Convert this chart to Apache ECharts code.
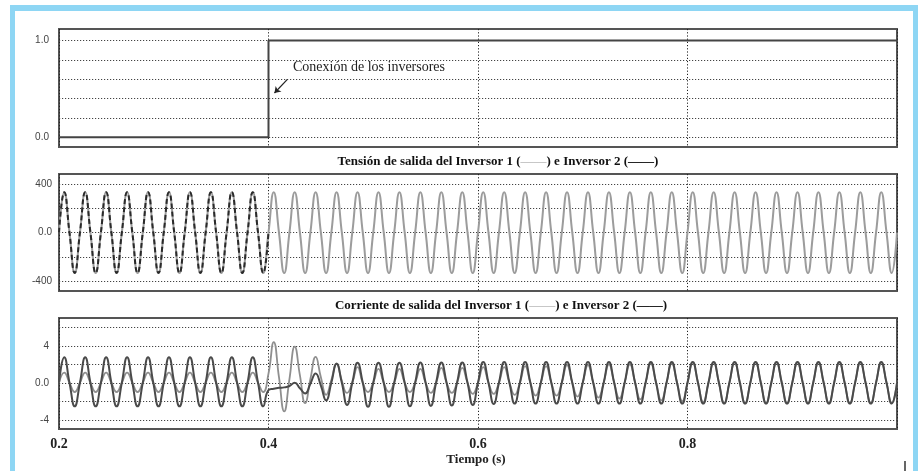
<!DOCTYPE html>
<html>
<head>
<meta charset="utf-8">
<script src="https://cdn.jsdelivr.net/npm/echarts@6/dist/echarts.min.js"></script>
<style>
  html, body { margin: 0; padding: 0; background: #fff; }
  #chart { width: 918px; height: 471px; }
</style>
</head>
<body>
<div id="chart"></div>
<script>
// tiempo: un ciclo de 50 Hz = 0.02 s, muestras cada cuarto de ciclo
const t0 = 0.2;
const period = 0.02;

// señal de conexión
const stepT = [0.2, 0.4, 0.4, 1.0];
const stepV = [0, 0, 1, 1];

// tensión: pico y valle de cada ciclo (40 ciclos de 0.2 a 1.0 s)
const vPeak1 = [330, 330, 330, 330, 330, 330, 330, 330, 330, 330,
  330, 330, 330, 330, 330, 330, 330, 330, 330, 330,
  330, 330, 330, 330, 330, 330, 330, 330, 330, 330,
  330, 330, 330, 330, 330, 330, 330, 330, 330, 330];
const vValley1 = [-332, -332, -332, -332, -332, -332, -332, -332, -332, -332,
  -332, -332, -332, -332, -332, -332, -332, -332, -332, -332,
  -332, -332, -332, -332, -332, -332, -332, -332, -332, -332,
  -332, -332, -332, -332, -332, -332, -332, -332, -332, -332];
// inversor 2 solo visible hasta 0.4 s
const vPeak2 = [330, 330, 330, 330, 330, 330, 330, 330, 330, 330];
const vValley2 = [-332, -332, -332, -332, -332, -332, -332, -332, -332, -332];

// corriente: [cruce, pico, cruce, valle] por ciclo
const i1 = [
  [0, 1.1, 0, -1.0], [0, 1.1, 0, -1.0], [0, 1.1, 0, -1.0], [0, 1.1, 0, -1.0], [0, 1.1, 0, -1.0],
  [0, 1.1, 0, -1.0], [0, 1.1, 0, -1.0], [0, 1.1, 0, -1.0], [0, 1.1, 0, -1.0], [0, 1.1, 0, -1.0],
  [1.0, 4.4, 0.6, -3.1],  // 0.40
  [0.4, 3.9, 0.8, -2.2],
  [0.4, 2.8, 0.6, -1.3],
  [0.3, 2.1, 0.2, -1.1],
  [0, 1.7, 0, -1.0],
  [0, 1.5, 0, -1.0], [0, 1.5, 0, -1.0], [0, 1.5, 0, -1.1], [0, 1.6, 0, -1.1], [0, 1.6, 0, -1.2],
  [0, 1.7, 0, -1.2],      // 0.60
  [0, 1.7, 0, -1.3], [0, 1.8, 0, -1.4], [0, 1.8, 0, -1.4], [0, 1.9, 0, -1.5], [0, 1.9, 0, -1.6],
  [0, 2.0, 0, -1.7], [0, 2.0, 0, -1.8], [0, 2.1, 0, -1.9], [0, 2.1, 0, -2.0],
  [0, 2.2, 0, -2.1],      // 0.80
  [0, 2.2, 0, -2.2], [0, 2.2, 0, -2.2], [0, 2.2, 0, -2.2], [0, 2.2, 0, -2.2], [0, 2.2, 0, -2.2],
  [0, 2.2, 0, -2.2], [0, 2.2, 0, -2.2], [0, 2.2, 0, -2.2], [0, 2.2, 0, -2.2]
];
const i2 = [
  [0, 2.75, 0, -2.55], [0, 2.75, 0, -2.55], [0, 2.75, 0, -2.55], [0, 2.75, 0, -2.55], [0, 2.75, 0, -2.55],
  [0, 2.75, 0, -2.55], [0, 2.75, 0, -2.55], [0, 2.75, 0, -2.55], [0, 2.75, 0, -2.55], [0, 2.75, 0, -2.55],
  [-0.8, -0.65, -0.55, -0.5], // 0.40
  [-0.35, 0.0, -0.6, -1.15],
  [-0.1, 1.0, -0.3, -1.9],
  [0, 2.05, 0, -2.4],
  [0, 2.15, 0, -2.6],
  [0, 2.15, 0, -2.6], [0, 2.15, 0, -2.55], [0, 2.2, 0, -2.5], [0, 2.2, 0, -2.45], [0, 2.2, 0, -2.4],
  [0, 2.25, 0, -2.3],     // 0.60
  [0, 2.25, 0, -2.25], [0, 2.25, 0, -2.25], [0, 2.25, 0, -2.25], [0, 2.25, 0, -2.25], [0, 2.25, 0, -2.25],
  [0, 2.25, 0, -2.25], [0, 2.25, 0, -2.25], [0, 2.25, 0, -2.25], [0, 2.25, 0, -2.25],
  [0, 2.25, 0, -2.25],    // 0.80
  [0, 2.25, 0, -2.25], [0, 2.25, 0, -2.25], [0, 2.25, 0, -2.25], [0, 2.25, 0, -2.25], [0, 2.25, 0, -2.25],
  [0, 2.25, 0, -2.25], [0, 2.25, 0, -2.25], [0, 2.25, 0, -2.25], [0, 2.25, 0, -2.25]
];

// líneas de rejilla horizontales
const grid1 = [0, 0.2, 0.4, 0.6, 0.8, 1.0];
const grid2 = [-400, -200, 0, 200, 400];
const grid3 = [-4, -2, 0, 2, 4, 6];

function toPoints(rows, last) {
  const pts = [];
  rows.forEach((r, k) => {
    r.forEach((v, j) => pts.push([t0 + k * period + j * period / 4, v]));
  });
  pts.push([t0 + rows.length * period, last]);
  return pts;
}
const voltRows = (p, v) => p.map((pk, k) => [0, pk, 0, v[k]]);

const serif = '"Liberation Serif", "Times New Roman", serif';
const sans = '"Liberation Sans", Arial, sans-serif';
const dotted = { color: '#444', type: [1.2, 1.8], width: 1 };

function gridSeries(idx, vals) {
  return {
    type: 'line', xAxisIndex: idx, yAxisIndex: idx, data: [],
    markLine: {
      silent: true, symbol: 'none', z: 1, animation: false,
      label: { show: false }, lineStyle: dotted,
      data: vals.map(v => ({ yAxis: v }))
    }
  };
}

function fmt(show) {
  return v => {
    for (const s of show) if (Math.abs(v - s[0]) < 1e-6) return s[1];
    return '';
  };
}

const grids = [
  { left: 59, right: 21, top: 29, height: 118 },
  { left: 59, right: 21, top: 174, height: 117 },
  { left: 59, right: 21, top: 318, height: 111 }
].map(g => Object.assign(g, { show: true, borderColor: '#555', borderWidth: 2 }));

const xAxes = [0, 1, 2].map(i => ({
  type: 'value', gridIndex: i, min: 0.2, max: 1.0, interval: 0.2,
  axisLine: { show: false }, axisTick: { show: false },
  splitLine: { show: true, lineStyle: { color: '#222', type: [1.2, 2], width: 1 } },
  axisLabel: {
    show: i === 2, margin: 8,
    fontFamily: serif, fontWeight: 'bold', fontSize: 14, color: '#222',
    formatter: v => (v > 0.99 ? '' : v.toFixed(1))
  }
}));

const yLabel = { fontFamily: sans, fontSize: 10, color: '#444' };
const yAxes = [
  { gridIndex: 0, min: -0.1, max: 1.12, interval: 0.1,
    axisLabel: Object.assign({ margin: 10, formatter: fmt([[0, '0.0'], [1, '1.0']]) }, yLabel) },
  { gridIndex: 1, min: -480, max: 480, interval: 80,
    axisLabel: Object.assign({ margin: 7, formatter: fmt([[400, '400'], [0, '0.0'], [-400, '-400']]) }, yLabel) },
  { gridIndex: 2, min: -5, max: 7, interval: 1,
    axisLabel: Object.assign({ margin: 10, formatter: fmt([[4, '4'], [0, '0.0'], [-4, '-4']]) }, yLabel) }
].map(a => Object.assign(a, {
  type: 'value', axisLine: { show: false }, axisTick: { show: false }, splitLine: { show: false }
}));

const line = (idx, data, color, width, type, z) => ({
  type: 'line', xAxisIndex: idx, yAxisIndex: idx, data, z,
  showSymbol: false, symbol: 'none', smooth: 0.5,
  lineStyle: { color, width, type: type || 'solid' }
});

const chart = echarts.init(document.getElementById('chart'));
chart.setOption({
  animation: false,
  backgroundColor: '#fff',
  grid: grids,
  xAxis: xAxes,
  yAxis: yAxes,
  series: [
    gridSeries(0, grid1),
    gridSeries(1, grid2),
    gridSeries(2, grid3),
    {
      type: 'line', xAxisIndex: 0, yAxisIndex: 0, z: 3,
      data: stepT.map((t, k) => [t, stepV[k]]),
      showSymbol: false, symbol: 'none',
      lineStyle: { color: '#444', width: 2 },
      markLine: {
        silent: true, animation: false, symbol: ['none', 'arrow'], symbolSize: 6,
        label: { show: false },
        lineStyle: { color: '#222', type: 'solid', width: 1.2 },
        data: [[{ coord: [0.418, 0.6] }, { coord: [0.4057, 0.458] }]]
      }
    },
    line(1, toPoints(voltRows(vPeak1, vValley1), 0), '#9c9c9c', 2, 'solid', 3),
    line(1, toPoints(voltRows(vPeak2, vValley2), 0), '#2a2a2a', 2, [5, 3], 4),
    line(2, toPoints(i1, 0), '#8f8f8f', 1.8, 'solid', 3),
    line(2, toPoints(i2, 0), '#4a4a4a', 2, 'solid', 4)
  ],
  graphic: [
    { type: 'rect', shape: { x: 10, y: 5, width: 908, height: 6 }, style: { fill: '#8ed6f4' } },
    { type: 'rect', shape: { x: 10, y: 5, width: 5, height: 466 }, style: { fill: '#8ed6f4' } },
    { type: 'rect', shape: { x: 913, y: 5, width: 5, height: 466 }, style: { fill: '#8ed6f4' } },
    { type: 'line', shape: { x1: 905, y1: 461, x2: 905, y2: 471 }, style: { stroke: '#333', lineWidth: 1.5 } },
    {
      type: 'text', x: 293, y: 67,
      style: { text: 'Conexión de los inversores', font: '14px ' + serif, fill: '#222',
        textAlign: 'left', textVerticalAlign: 'middle' }
    },
    {
      type: 'text', x: 498, y: 162,
      style: {
        text: 'Tensión de salida del Inversor 1 ({g|——}) e Inversor 2 ({k|——})',
        font: 'bold 13px ' + serif, fill: '#111', textAlign: 'center', textVerticalAlign: 'middle',
        rich: {
          g: { fill: '#aaa', fontWeight: 'normal', fontSize: 13, fontFamily: serif },
          k: { fill: '#000', fontWeight: 'bold', fontSize: 13, fontFamily: serif }
        }
      }
    },
    {
      type: 'text', x: 501, y: 306,
      style: {
        text: 'Corriente de salida del Inversor 1 ({g|——}) e Inversor 2 ({k|——})',
        font: 'bold 13px ' + serif, fill: '#111', textAlign: 'center', textVerticalAlign: 'middle',
        rich: {
          g: { fill: '#aaa', fontWeight: 'normal', fontSize: 13, fontFamily: serif },
          k: { fill: '#000', fontWeight: 'bold', fontSize: 13, fontFamily: serif }
        }
      }
    },
    {
      type: 'text', x: 476, y: 460,
      style: { text: 'Tiempo (s)', font: 'bold 13px ' + serif, fill: '#222',
        textAlign: 'center', textVerticalAlign: 'middle' }
    }
  ]
});
</script>
</body>
</html>
